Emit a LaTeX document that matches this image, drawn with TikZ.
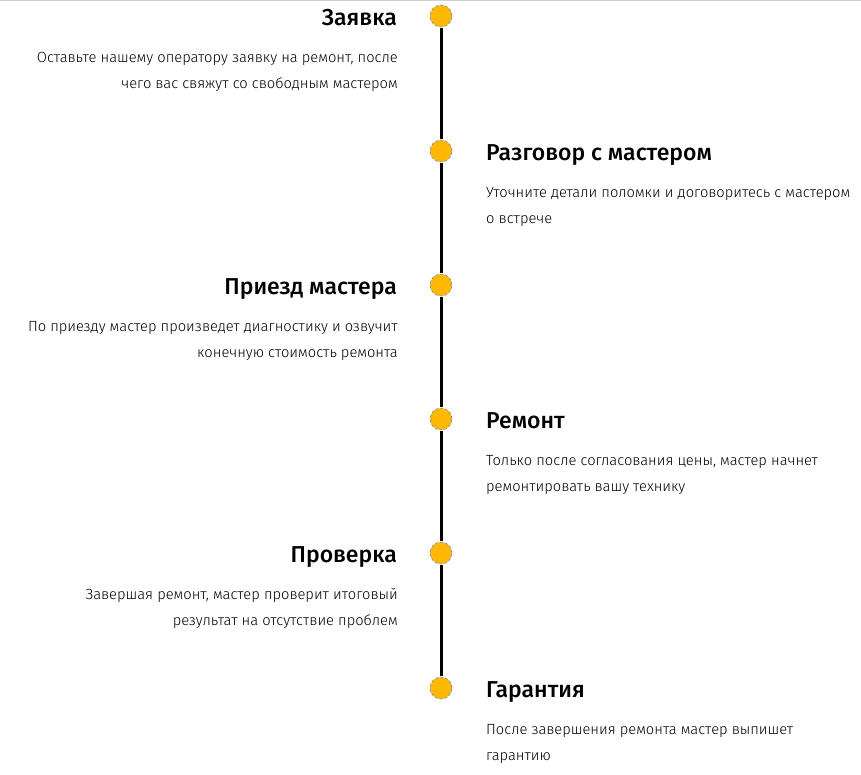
\documentclass[tikz,border=0pt]{standalone}
\usepackage{fontspec}
\setmainfont{Fira Sans}
\newfontfamily\steplight{Fira Sans Light}
\newfontfamily\stepmedium{Fira Sans Medium}
\definecolor{dotyellow}{HTML}{FFB800}
\definecolor{dotblue}{HTML}{5B7BE0}
\definecolor{rulegray}{HTML}{D0D0D0}
\tikzset{
  stepdot/.style={circle, fill=dotyellow, draw=dotblue, densely dashed, line width=0.5pt, minimum size=22pt, inner sep=0pt},
  steptitle/.style={font=\fontsize{23}{26}\selectfont\stepmedium, inner sep=0pt},
  stepleft/.style={align=right, anchor=base east, font=\fontsize{14.7}{26}\selectfont\steplight, inner sep=0pt},
  stepright/.style={align=left, anchor=base west, font=\fontsize{14.7}{26}\selectfont\steplight, inner sep=0pt}
}
\begin{document}
\begin{tikzpicture}[x=1pt, y=-1pt]
    \useasboundingbox (0, 0) rectangle (861, 774);
    \draw[rulegray, line width=1pt] (0, 0.5) -- (861, 0.5);
    % dots along the line
    \node[stepdot] (s1) at (441, 16) {};
    \node[stepdot] (s2) at (441, 151) {};
    \node[stepdot] (s3) at (441, 285) {};
    \node[stepdot] (s4) at (441, 419) {};
    \node[stepdot] (s5) at (441, 553) {};
    \node[stepdot] (s6) at (441, 688) {};
    \draw[line width=3pt, shorten <=1pt, shorten >=1pt] (s1) -- (s2);
    \draw[line width=3pt, shorten <=1pt, shorten >=1pt] (s2) -- (s3);
    \draw[line width=3pt, shorten <=1pt, shorten >=1pt] (s3) -- (s4);
    \draw[line width=3pt, shorten <=1pt, shorten >=1pt] (s4) -- (s5);
    \draw[line width=3pt, shorten <=1pt, shorten >=1pt] (s5) -- (s6);
    % left side
    \node[steptitle, anchor=base east] (t1) at (397, 25) {Заявка};
    \node[stepleft] (d1) at (398, 88) {Оставьте нашему оператору заявку на ремонт, после\\чего вас свяжут со свободным мастером};
    \node[steptitle, anchor=base east] (t3) at (397, 294) {Приезд мастера};
    \node[stepleft] (d3) at (398, 357) {По приезду мастер произведет диагностику и озвучит\\конечную стоимость ремонта};
    \node[steptitle, anchor=base east] (t5) at (397, 562) {Проверка};
    \node[stepleft] (d5) at (398, 625) {Завершая ремонт, мастер проверит итоговый\\результат на отсутствие проблем};
    % right side
    \node[steptitle, anchor=base west] (t2) at (486, 160) {Разговор с мастером};
    \node[stepright] (d2) at (486, 223) {Уточните детали поломки и договоритесь с мастером\\о встрече};
    \node[steptitle, anchor=base west] (t4) at (486, 428) {Ремонт};
    \node[stepright] (d4) at (486, 491) {Только после согласования цены, мастер начнет\\ремонтировать вашу технику};
    \node[steptitle, anchor=base west] (t6) at (486, 697) {Гарантия};
    \node[stepright] (d6) at (486, 760) {После завершения ремонта мастер выпишет\\гарантию};
\end{tikzpicture}
\end{document}
